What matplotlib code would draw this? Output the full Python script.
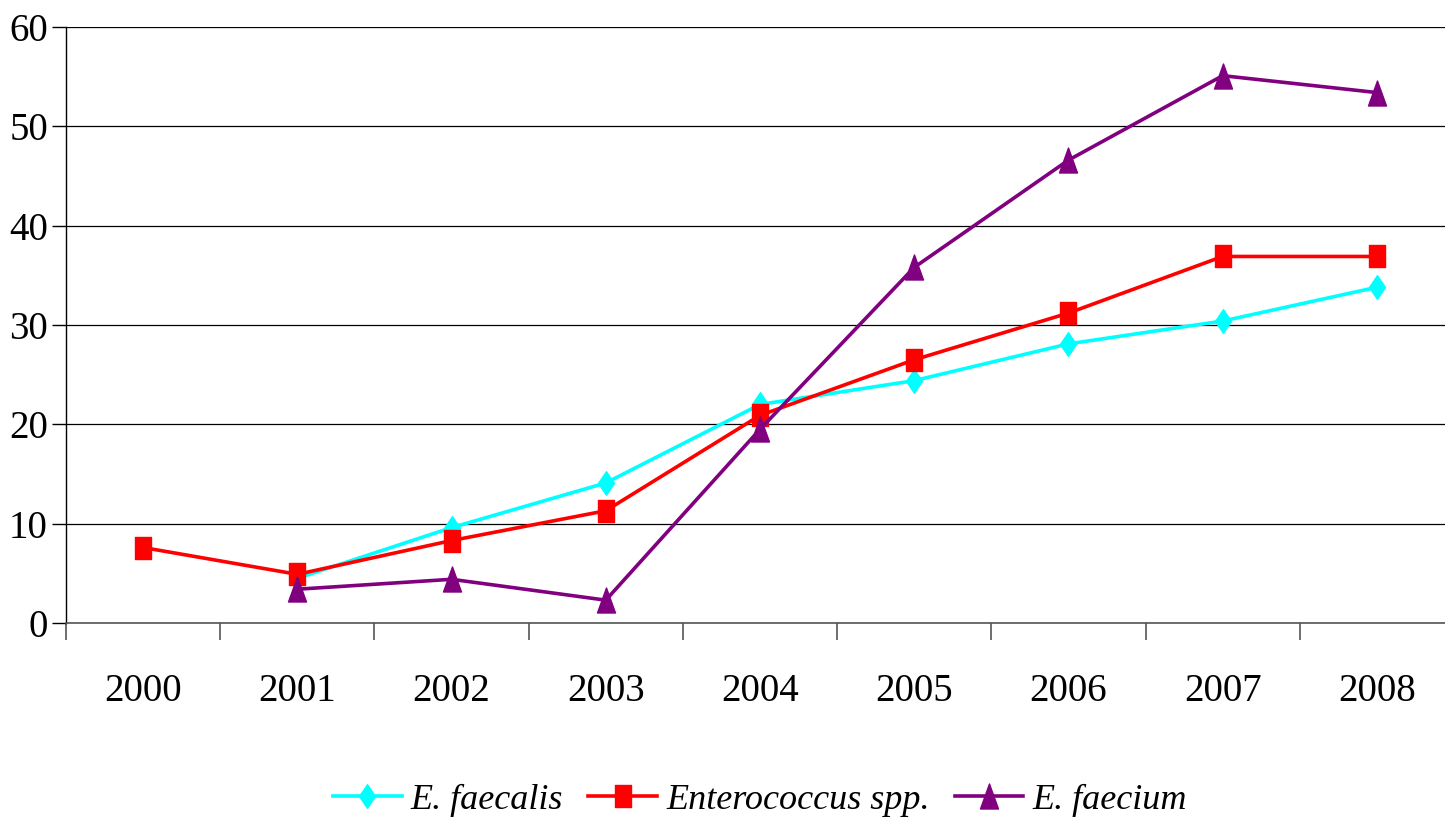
import numpy as np
import matplotlib.pyplot as plt
from matplotlib.path import Path

years = ['2000', '2001', '2002', '2003', '2004', '2005', '2006', '2007', '2008']
faecalis = [np.nan, 4.5, 9.6, 14.1, 22.0, 24.4, 28.1, 30.4, 33.8]
spp = [7.6, 4.9, 8.3, 11.3, 20.9, 26.5, 31.2, 36.9, 36.9]
faecium = [np.nan, 3.4, 4.4, 2.3, 19.5, 35.8, 46.6, 55.1, 53.4]

plt.rcParams['font.family'] = ['Liberation Serif', 'DejaVu Serif']

# tall (narrow) markers like the original excel chart
tall_diamond = Path([(0, 1), (0.68, 0), (0, -1), (-0.68, 0), (0, 1)], closed=True)
tall_square = Path([(-0.7, -1), (0.7, -1), (0.7, 1), (-0.7, 1), (-0.7, -1)], closed=True)
tall_triangle = Path([(-0.72, -1), (0.72, -1), (0, 1), (-0.72, -1)], closed=True)

fig = plt.figure(figsize=(14.45, 8.25), dpi=100)
ax = fig.add_axes([66 / 1445, 202 / 825, 1388 / 1445, 596 / 825])

x = np.arange(len(years))
ax.plot(x, faecalis, color='#00FFFF', lw=2.6, marker=tall_diamond, ms=17, label='E. faecalis', zorder=3)
ax.plot(x, spp, color='#FF0000', lw=2.6, marker=tall_square, ms=16, label='Enterococcus spp.', zorder=4)
ax.plot(x, faecium, color='#800080', lw=2.6, marker=tall_triangle, ms=18, label='E. faecium', zorder=5)

ax.set_xlim(-0.5, len(years) - 0.5)
ax.set_ylim(0, 60)
ax.set_yticks(range(0, 61, 10))
ax.yaxis.grid(True, color='black', lw=0.9)
ax.set_axisbelow(True)

ax.set_xticks(x)
ax.set_xticklabels(years)
ax.set_xticks(np.arange(-0.5, len(years), 1), minor=True)
ax.tick_params(axis='x', which='major', length=0, pad=36, labelsize=28)
ax.tick_params(axis='x', which='minor', length=12, width=1.2, color='#555555', direction='out')
ax.tick_params(axis='y', length=10, width=1, labelsize=28, pad=3)

for s in ['top', 'right']:
    ax.spines[s].set_visible(False)
ax.spines['left'].set_linewidth(1)
ax.spines['bottom'].set_color('#555555')
ax.spines['bottom'].set_linewidth(1.2)

leg = fig.legend(loc='center', bbox_to_anchor=(760 / 1445, 1 - 800 / 825), ncol=3,
                 frameon=False, prop={'style': 'italic', 'size': 26},
                 handlelength=1.9, columnspacing=0.7, handletextpad=0.25)

fig.savefig('out.png', dpi=100)
